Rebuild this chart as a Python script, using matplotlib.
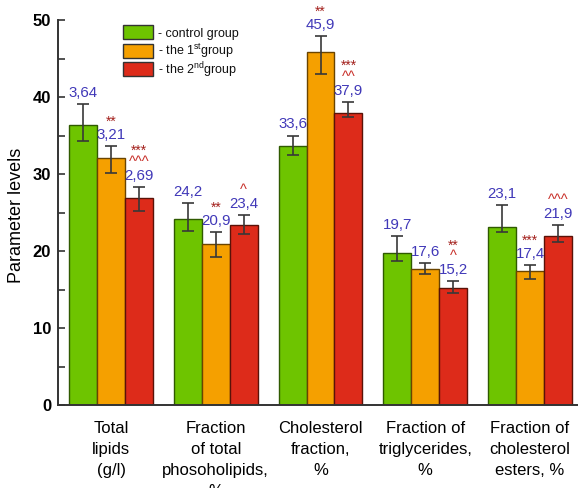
import matplotlib
matplotlib.use("Agg")
import matplotlib.pyplot as plt
from matplotlib.patches import Rectangle
from matplotlib.ticker import MultipleLocator
import numpy as np

plt.rcParams["font.family"] = ["Liberation Sans", "DejaVu Sans"]
plt.rcParams["mathtext.fontset"] = "custom"
plt.rcParams["mathtext.rm"] = "Liberation Sans"

# ---- data -------------------------------------------------------------
categories = [
    "Total\nlipids\n(g/l)",
    "Fraction\nof total\nphosoholipids,\n%",
    "Cholesterol\nfraction,\n%",
    "Fraction of\ntriglycerides,\n%",
    "Fraction of\ncholesterol\nesters, %",
]
series_names = ["- control group", "- the 1$^{\\mathrm{st}}$group", "- the 2$^{\\mathrm{nd}}$group"]

control = [3.64, 24.2, 33.6, 19.7, 23.1]
group1 = [3.21, 20.9, 45.9, 17.6, 17.4]
group2 = [2.69, 23.4, 37.9, 15.2, 21.9]

# total lipids (g/l) are drawn x10 on the shared "Parameter levels" axis
display_scale = [10, 1, 1, 1, 1]
label_decimals = [2, 1, 1, 1, 1]

# lower / upper error (same units as the values)
control_err_lo = [0.21, 1.6, 1.1, 1.0, 0.65]
control_err_hi = [0.275, 2.0, 1.4, 2.2, 2.9]
group1_err_lo = [0.195, 1.7, 2.95, 0.65, 1.1]
group1_err_hi = [0.155, 1.55, 2.0, 0.8, 0.75]
group2_err_lo = [0.17, 1.2, 0.55, 0.7, 0.75]
group2_err_hi = [0.145, 1.3, 1.5, 0.85, 1.45]

# significance marks
group1_stars = ["**", "**", "**", "", "***"]
group2_stars = ["***", "", "***", "**", ""]
group2_carets = ["^^^", "^", "^^", "^", "^^^"]

# ---- figure -----------------------------------------------------------
W, H = 578, 488
fig = plt.figure(figsize=(W / 100, H / 100), dpi=100)
ax = fig.add_axes([58 / W, 83 / H, 520 / W, 385 / H])

fills = ["#6ec400", "#f5a000", "#dd2b1a"]
edges = ["#2f5a00", "#6a4400", "#5a1208"]
value_color = "#4038b8"
star_color = "#a3201c"
caret_color = "#c8302a"

scale = np.array(display_scale, dtype=float)
x = np.arange(len(categories))
w = 0.267
offsets = [-w, 0.0, w]

series = [control, group1, group2]
errs_lo = [control_err_lo, group1_err_lo, group2_err_lo]
errs_hi = [control_err_hi, group1_err_hi, group2_err_hi]
stars = [[""] * 5, group1_stars, group2_stars]
carets = [[""] * 5, [""] * 5, group2_carets]

px2pt = 72 / 100

for k in range(3):
    vals = np.array(series[k]) * scale
    lo = np.array(errs_lo[k]) * scale
    hi = np.array(errs_hi[k]) * scale
    xs = x + offsets[k]
    ax.bar(xs, vals, width=w, color=fills[k], edgecolor=edges[k], linewidth=1.0, zorder=2)
    ax.errorbar(xs, vals, yerr=[lo, hi], fmt="none", ecolor="#383838",
                elinewidth=1.2, capsize=4.3, capthick=1.2, zorder=3)
    for i in range(len(categories)):
        top = vals[i] + hi[i]
        txt = f"{series[k][i]:.{label_decimals[i]}f}".replace(".", ",")
        ax.annotate(txt, (xs[i], top), xytext=(0, 7 * px2pt), textcoords="offset points",
                    ha="center", va="baseline", fontsize=10.8, color=value_color, zorder=4)
        has_caret = carets[k][i] != ""
        if has_caret:
            ax.annotate(carets[k][i], (xs[i], top), xytext=(0, 21 * px2pt),
                        textcoords="offset points", ha="center", va="baseline",
                        fontsize=10.5, color=caret_color, zorder=4)
        if stars[k][i]:
            yoff = 32 if has_caret else 20
            ax.annotate(stars[k][i], (xs[i], top), xytext=(0, yoff * px2pt),
                        textcoords="offset points", ha="center", va="baseline",
                        fontsize=10, color=star_color, zorder=4)

ax.set_xlim(-0.506, 4.458)
ax.set_ylim(0, 50)
ax.yaxis.set_major_locator(MultipleLocator(10))
ax.yaxis.set_minor_locator(MultipleLocator(5))
ax.tick_params(axis="y", which="major", direction="in", length=5, width=1.2,
               color="#333333", labelsize=12, pad=5)
ax.tick_params(axis="y", which="minor", direction="in", length=5, width=1.2, color="#333333")
for lab in ax.get_yticklabels():
    lab.set_fontweight("bold")

ax.set_xticks(x)
ax.set_xticklabels(categories, fontsize=12, linespacing=1.5)
ax.tick_params(axis="x", length=0, pad=11.5)

for side in ["top", "right"]:
    ax.spines[side].set_visible(False)
for side in ["left", "bottom"]:
    ax.spines[side].set_color("#333333")
    ax.spines[side].set_linewidth(1.4)

fig.text(17 / W, 1 - 215 / H, "Parameter levels", rotation=90,
         ha="center", va="center", fontsize=13)

# legend: colour boxes with labels to their right
legend_rows = [32, 50.5, 69.5]
for k, yc in enumerate(legend_rows):
    fig.add_artist(Rectangle((123 / W, 1 - (yc + 7) / H), 30 / W, 14 / H,
                             transform=fig.transFigure, facecolor=fills[k],
                             edgecolor="#333333", linewidth=1.0))
    fig.text(158 / W, 1 - (yc + 4.5) / H, series_names[k], ha="left",
             va="baseline", fontsize=9, color="#111111")

fig.savefig("out.png", dpi=100)
